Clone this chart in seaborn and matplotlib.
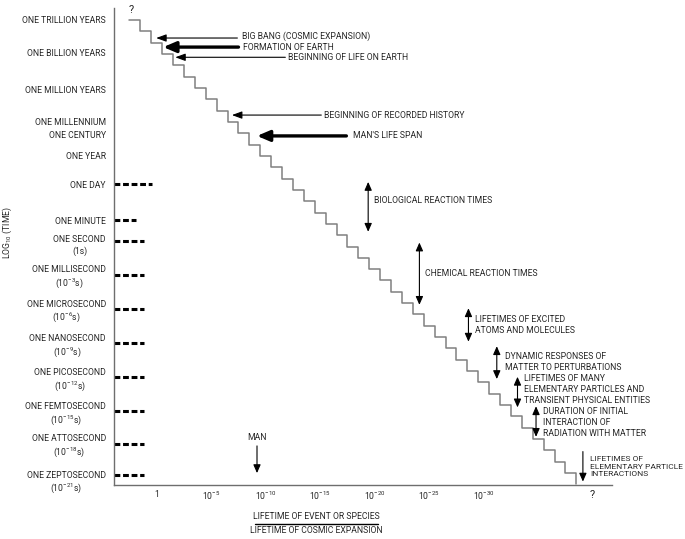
import numpy as np
import pandas as pd
import seaborn as sns
import matplotlib.pyplot as plt

# Staircase: x in decades of (lifetime / lifetime of cosmic expansion), y in decades of time
stair_x = [-2.5, -1.5, -0.5, 0.5, 1.5, 2.5, 3.5, 4.5, 5.5, 6.5, 7.5, 8.5, 9.5, 10.5,
           11.5, 12.5, 13.5, 14.5, 15.5, 16.5, 17.5, 18.5, 19.5, 20.5, 21.5, 22.5, 23.5,
           24.5, 25.5, 26.5, 27.5, 28.5, 29.5, 30.5, 31.5, 32.5, 33.5, 34.5, 35.5, 36.5,
           37.5, 38.5]
stair_y = [20, 19, 18, 17, 16, 15, 14, 13, 12, 11, 10, 9, 8, 7, 6, 5, 4, 3, 2, 1, 0,
           -1, -2, -3, -4, -5, -6, -7, -8, -9, -10, -11, -12, -13, -14, -15, -16, -17,
           -18, -19, -20, -21]

# time scale labels on the y axis
time_labels = ['ONE TRILLION YEARS', 'ONE BILLION YEARS', 'ONE MILLION YEARS',
               'ONE MILLENNIUM', 'ONE CENTURY', 'ONE YEAR', 'ONE DAY', 'ONE MINUTE',
               'ONE SECOND\n(1s)', 'ONE MILLISECOND\n(10$^{-3}$s)',
               'ONE MICROSECOND\n(10$^{-6}$s)', 'ONE NANOSECOND\n(10$^{-9}$s)',
               'ONE PICOSECOND\n(10$^{-12}$s)', 'ONE FEMTOSECOND\n(10$^{-15}$s)',
               'ONE ATTOSECOND\n(10$^{-18}$s)', 'ONE ZEPTOSECOND\n(10$^{-21}$s)']
time_pos = [20.0, 17.1, 13.9, 11.0, 9.85, 8.0, 5.5, 2.3, 0.25, -2.45, -5.5, -8.55,
            -11.55, -14.55, -17.4, -20.6]

# short dashed markers next to the axis
dash_y = [5.5, 2.3, 0.5, -2.5, -5.5, -8.5, -11.5, -14.5, -17.4, -20.2]
dash_end = [-0.45, -1.9, -1.15, -1.15, -1.15, -1.15, -1.15, -1.15, -1.15, -1.15]

# x tick labels
ratio_ticks = [0, 5, 10, 15, 20, 25, 30]
ratio_labels = ['1', '10$^{-5}$', '10$^{-10}$', '10$^{-15}$', '10$^{-20}$', '10$^{-25}$', '10$^{-30}$']

# events pointed at with horizontal arrows
ev_labels = ['BIG BANG (COSMIC EXPANSION)', 'FORMATION OF EARTH', 'BEGINNING OF LIFE ON EARTH',
             'BEGINNING OF RECORDED HISTORY', "MAN'S LIFE SPAN"]
ev_y = [18.4, 17.6, 16.7, 11.6, 9.76]
ev_text_y = [18.55, 17.6, 16.65, 11.6, 9.76]
ev_tip = [-0.05, 0.6, 1.7, 6.9, 9.2]
ev_tail = [7.4, 7.5, 11.8, 15.1, 17.4]
ev_text_x = [7.8, 7.9, 12.0, 15.35, 18.0]
ev_bold = [False, True, False, False, True]

# ranges shown with double arrows
rng_labels = ['BIOLOGICAL REACTION TIMES', 'CHEMICAL REACTION TIMES',
              'LIFETIMES OF EXCITED\nATOMS AND MOLECULES',
              'DYNAMIC RESPONSES OF\nMATTER TO PERTURBATIONS',
              'LIFETIMES OF MANY\nELEMENTARY PARTICLES AND\nTRANSIENT PHYSICAL ENTITIES',
              'DURATION OF INITIAL\nINTERACTION OF\nRADIATION WITH MATTER']
rng_x = [19.4, 24.1, 28.6, 31.2, 33.1, 34.8]
rng_top = [5.7, 0.35, -5.45, -8.8, -11.5, -14.1]
rng_bottom = [1.3, -5.15, -8.4, -11.7, -14.2, -16.8]
rng_text_x = [19.9, 24.6, 29.2, 31.95, 33.7, 35.4]
rng_text_y = [4.05, -2.4, -6.9, -10.2, -12.65, -15.5]

# single downward arrows
pt_labels = ['MAN', 'LIFETIMES OF\nELEMENTARY PARTICLE\nINTERACTIONS']
pt_x = [9.2, 39.1]
pt_top = [-17.6, -18.1]
pt_tip = [-20.0, -20.75]
pt_text_x = [9.2, 39.75]
pt_text_y = [-16.85, -19.45]

sns.set_style("white")
plt.rcParams['font.family'] = ['Roboto', 'Liberation Sans', 'DejaVu Sans']
plt.rcParams['mathtext.default'] = 'regular'

gray = '#6e6e6e'
fs = 6.2

fig = plt.figure(figsize=(6.85, 5.39), dpi=100)
ax = fig.add_axes([114 / 685, 1 - 485 / 539, 498 / 685, 477 / 539])

sns.lineplot(x=stair_x, y=stair_y, drawstyle='steps-post', color='#808080', lw=1.1,
             estimator=None, sort=False, ax=ax)

ax.set_xlim(-3.92, 41.77)
ax.set_ylim(-21.05, 21.05)
sns.despine(ax=ax)
for s in ['left', 'bottom']:
    ax.spines[s].set_color(gray)
    ax.spines[s].set_linewidth(1.0)

# x axis
ax.set_xticks(ratio_ticks, labels=ratio_labels)
ax.set_xticks(np.arange(0, 39), minor=True)
ax.tick_params(axis='x', which='both', direction='in', length=3.6, width=0.8,
               color=gray, pad=3.5, labelsize=6.2)

# y axis
ax.set_yticks(time_pos, labels=time_labels)
ax.set_yticks(np.arange(-20, 21), minor=True)
ax.yaxis.remove_overlapping_locs = False
ax.tick_params(axis='y', which='major', length=0, pad=5.8, labelsize=fs)
ax.tick_params(axis='y', which='minor', direction='in', length=6.5, width=0.8, color=gray)
for lbl in ax.get_yticklabels():
    lbl.set_multialignment('center')
ax.set_ylabel('LOG$_{10}$ (TIME)', fontsize=fs)
ax.yaxis.set_label_coords(-0.201, 0.53)
ax.set_xlabel('')

# dashed markers
for y, xe in zip(dash_y, dash_end):
    ax.plot([-3.92, xe], [y, y], color='black', lw=2.2, linestyle=(0, (1.9, 0.9)),
            solid_capstyle='butt', clip_on=False)

# horizontal arrows
for lab, y, ty, tip, tail, tx, bold in zip(ev_labels, ev_y, ev_text_y, ev_tip, ev_tail,
                                          ev_text_x, ev_bold):
    if bold:
        style = '-|>,head_length=0.75,head_width=0.32'
        lw = 2.4
    else:
        style = '-|>,head_length=0.6,head_width=0.22'
        lw = 0.8
    ax.annotate('', xy=(tip, y), xytext=(tail, y),
                arrowprops=dict(arrowstyle=style, color='black', lw=lw,
                                shrinkA=0, shrinkB=0, mutation_scale=10))
    ax.text(tx, ty, lab, fontsize=fs, ha='left', va='center')

# double arrows for ranges
for lab, x, yt, yb, tx, ty in zip(rng_labels, rng_x, rng_top, rng_bottom, rng_text_x, rng_text_y):
    ax.annotate('', xy=(x, yt), xytext=(x, yb),
                arrowprops=dict(arrowstyle='<|-|>,head_length=0.5,head_width=0.22',
                                color='black', lw=0.8, shrinkA=0, shrinkB=0,
                                mutation_scale=10))
    ax.text(tx, ty, lab, fontsize=fs, ha='left', va='center', linespacing=1.3)

# single arrows
for lab, x, yt, yb, tx, ty in zip(pt_labels, pt_x, pt_top, pt_tip, pt_text_x, pt_text_y):
    ax.annotate('', xy=(x, yb), xytext=(x, yt),
                arrowprops=dict(arrowstyle='-|>,head_length=0.5,head_width=0.22',
                                color='black', lw=0.8, shrinkA=0, shrinkB=0,
                                mutation_scale=10))
    if lab == 'MAN':
        ax.text(tx, ty, lab, fontsize=fs, ha='center', va='center')
    else:
        ax.text(tx, ty, lab, fontsize=6.0, ha='left', va='center', linespacing=1.3)

# question marks
ax.text(-2.3, 20.9, '?', fontsize=8, ha='center', va='center', clip_on=False)
ax.text(40.0, -0.021, '?', fontsize=8, ha='center', va='center',
        transform=ax.get_xaxis_transform(), clip_on=False)

# fraction label under the x axis
ax.text(0.4056, -0.067, 'LIFETIME OF EVENT OR SPECIES', fontsize=fs, ha='center',
        va='center', transform=ax.transAxes)
ax.plot([0.283, 0.530], [-0.0818, -0.0818], color='black', lw=1.0,
        transform=ax.transAxes, clip_on=False)
ax.text(0.4056, -0.0964, 'LIFETIME OF COSMIC EXPANSION', fontsize=fs, ha='center',
        va='center', transform=ax.transAxes)

fig.savefig('out.png', dpi=100)
